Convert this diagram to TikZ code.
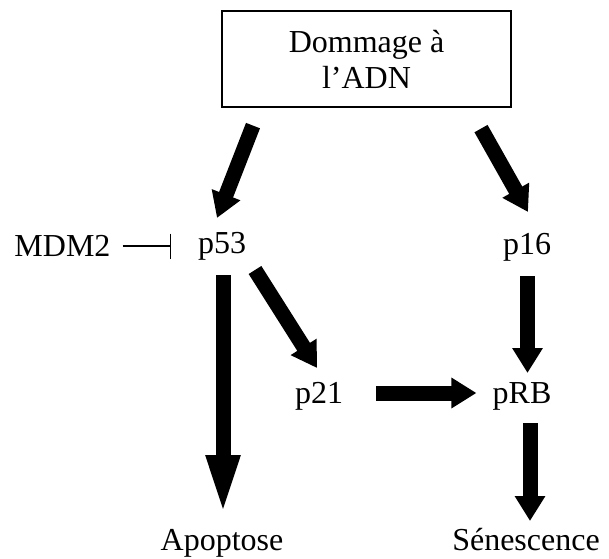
\documentclass[tikz,border=0pt]{standalone}
\usepackage{fontspec}
\setmainfont{Liberation Serif}
\usetikzlibrary{arrows.meta, calc, positioning}

\tikzset{
  lbl/.style={font=\fontsize{32}{36}\selectfont, inner sep=0pt, anchor=base},
  bigarrow/.style={line width=15pt, -{Triangle[width=29pt,length=25pt]}},
  longarrow/.style={line width=15pt, -{Triangle[width=30pt,length=62pt]}},
  inhib/.style={line width=1.2pt, -{Bar[width=25pt,line width=1.2pt]}}
}

\begin{document}
\begin{tikzpicture}[x=1pt,y=1pt]
   \useasboundingbox (0,0) rectangle (609,558);

   \draw(366.5,499) node[draw, line width=1.2pt, minimum width=289pt,
          minimum height=96pt, align=center,
          font=\fontsize{32}{36}\selectfont] (adn) {Dommage à\\l’ADN};

   \draw(222,305) node[lbl] (p53) {p53};
   \draw(527,304) node[lbl] (p16) {p16};
   \draw(62.5,302) node[lbl] (mdm) {MDM2};
   \draw(319,155) node[lbl] (p21) {p21};
   \draw(522,155) node[lbl] (prb) {pRB};
   \draw(222,8) node[lbl] (apop) {Apoptose};
   \draw(526,8) node[lbl] (sen) {Sénescence};

   \draw[bigarrow] ([shift={(-113.5,-18)}]adn.south) -- ([shift={(-5,35)}]p53.base);
   \draw[bigarrow] ([shift={(114.5,-21)}]adn.south) -- ([shift={(1,42)}]p16.base);

   \draw[inhib] ([xshift=12pt,yshift=10pt]mdm.base east) -- ([xshift=-27pt,yshift=7pt]p53.base west);

   \draw[longarrow] ([shift={(1,-22)}]p53.base) -- ([shift={(1,33)}]apop.base);
   \draw[bigarrow] ([shift={(33,-17)}]p53.base) -- ([shift={(-2,35)}]p21.base);

   \draw[bigarrow] ([shift={(33,10)}]p21.base east) -- ([shift={(-16,10)}]prb.base west);
   \draw[bigarrow] ([shift={(0.5,-22)}]p16.base) -- ([shift={(5.5,30)}]prb.base);
   \draw[bigarrow] ([shift={(8,-20)}]prb.base) -- ([shift={(4,29)}]sen.base);

\end{tikzpicture}
\end{document}
